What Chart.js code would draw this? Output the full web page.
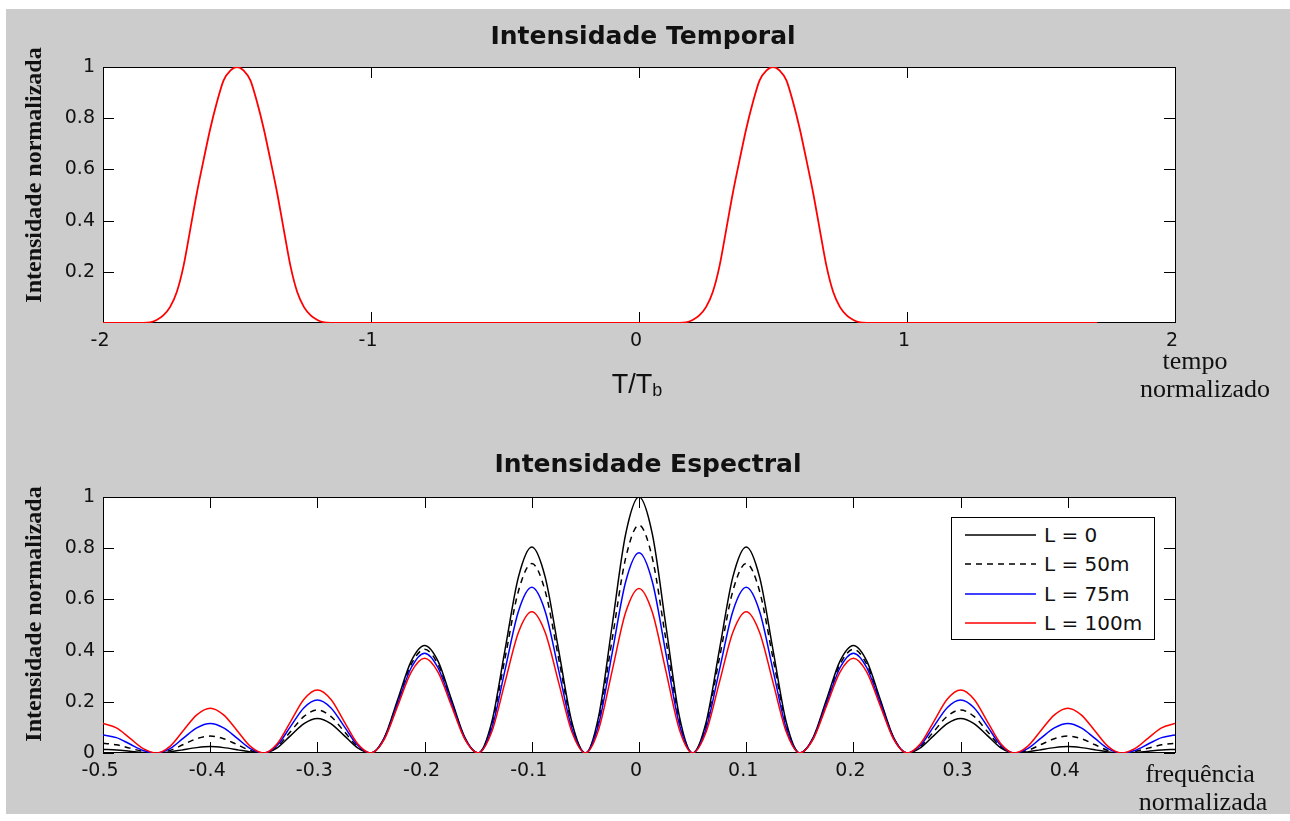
<!DOCTYPE html>
<html lang="pt">
<head>
<meta charset="utf-8">
<title>Intensidade Temporal e Espectral</title>
<script src="https://cdn.jsdelivr.net/npm/chart.js@4.4.0/dist/chart.umd.min.js"></script>
<style>
  html, body { margin: 0; padding: 0; background: #fff; }
  body { width: 1290px; height: 821px; position: relative; overflow: hidden; color: #111; }
  #fundo { position: absolute; left: 6px; top: 9px; width: 1284px; height: 805px; background: #cccccc; }
  canvas { position: absolute; left: 0; }
  #grafTempo { top: 0; }
  #grafEspectro { top: 420px; }
  .titulo { position: absolute; font: bold 25px 'DejaVu Sans', sans-serif; line-height: 25px; white-space: nowrap; transform: translateX(-50%); }
  .rotulo-y { position: absolute; font: bold 24px 'Liberation Serif', serif; line-height: 24px; white-space: nowrap; transform: translate(-50%, -50%) rotate(-90deg); }
  .linha-x { position: absolute; font: 26px 'Liberation Serif', serif; line-height: 28px; white-space: nowrap; transform: translateX(-50%); }
  #tTb { position: absolute; left: 637px; top: 371px; font: 27px 'Liberation Sans', sans-serif; line-height: 27px; transform: translateX(-50%); white-space: nowrap; }
  #tTb sub { font-size: 18px; vertical-align: -3px; }
  #legenda { position: absolute; left: 951px; top: 517px; width: 202px; height: 121px; border: 1px solid #000; background: #fff; }
  #legenda .item { position: absolute; left: 0; height: 24px; display: flex; align-items: center; font: 20px 'DejaVu Sans', sans-serif; white-space: nowrap; }
  #legenda svg { margin-left: 13px; margin-right: 8px; }
</style>
</head>
<body>
<div id="fundo"></div>
<canvas id="grafTempo" width="1290" height="420"></canvas>
<canvas id="grafEspectro" width="1290" height="401"></canvas>

<div class="titulo" style="left:643px; top:23px;">Intensidade Temporal</div>
<div class="titulo" style="left:648px; top:451px;">Intensidade Espectral</div>
<div class="rotulo-y" style="left:33px; top:175px;">Intensidade normalizada</div>
<div class="rotulo-y" style="left:33px; top:614px;">Intensidade normalizada</div>
<div id="tTb">T/T<sub>b</sub></div>
<div class="linha-x" style="left:1195px; top:347px;">tempo</div>
<div class="linha-x" style="left:1205px; top:375px;">normalizado</div>
<div class="linha-x" style="left:1200px; top:760px;">frequência</div>
<div class="linha-x" style="left:1203px; top:788px;">normalizada</div>
<div id="legenda"></div>

<script>
// pulsos no tempo (T/Tb) e intensidade normalizada
const tempo = [
  -2,
  -1.85, -1.825, -1.8, -1.775, -1.75, -1.725, -1.7, -1.675, -1.65, -1.625,
  -1.6, -1.575, -1.55, -1.525, -1.5, -1.475, -1.45, -1.425, -1.4, -1.375,
  -1.35, -1.325, -1.3, -1.275, -1.25, -1.225, -1.2, -1.175, -1.15,
  0.15, 0.175, 0.2, 0.225, 0.25, 0.275, 0.3, 0.325, 0.35, 0.375,
  0.4, 0.425, 0.45, 0.475, 0.5, 0.525, 0.55, 0.575, 0.6, 0.625,
  0.65, 0.675, 0.7, 0.725, 0.75, 0.775, 0.8, 0.825, 0.85,
  1.71
];
const intensidadeTemporal = [
  0,
  0, 0.002, 0.012, 0.03, 0.062, 0.12, 0.22, 0.362, 0.507, 0.635,
  0.758, 0.862, 0.948, 0.986, 1, 0.986, 0.948, 0.862, 0.758, 0.635,
  0.507, 0.362, 0.22, 0.12, 0.062, 0.03, 0.012, 0.002, 0,
  0, 0.002, 0.012, 0.03, 0.062, 0.12, 0.22, 0.362, 0.507, 0.635,
  0.758, 0.862, 0.948, 0.986, 1, 0.986, 0.948, 0.862, 0.758, 0.635,
  0.507, 0.362, 0.22, 0.12, 0.062, 0.03, 0.012, 0.002, 0,
  0
];
const ticksTempoX = [-2, -1, 0, 1, 2];
const ticksTempoY = [0.2, 0.4, 0.6, 0.8, 1];

// espectro para cada comprimento de fibra
const frequencia = [
  -0.5, -0.4875, -0.475, -0.4625, -0.45, -0.4375, -0.425, -0.4125,
  -0.4, -0.3875, -0.375, -0.3625, -0.35, -0.3375, -0.325, -0.3125,
  -0.3, -0.2875, -0.275, -0.2625, -0.25, -0.2375, -0.225, -0.2125,
  -0.2, -0.1875, -0.175, -0.1625, -0.15, -0.1375, -0.125, -0.1125,
  -0.1, -0.0875, -0.075, -0.0625, -0.05, -0.0375, -0.025, -0.0125,
  0,
  0.0125, 0.025, 0.0375, 0.05, 0.0625, 0.075, 0.0875, 0.1,
  0.1125, 0.125, 0.1375, 0.15, 0.1625, 0.175, 0.1875, 0.2,
  0.2125, 0.225, 0.2375, 0.25, 0.2625, 0.275, 0.2875, 0.3,
  0.3125, 0.325, 0.3375, 0.35, 0.3625, 0.375, 0.3875, 0.4,
  0.4125, 0.425, 0.4375, 0.45, 0.4625, 0.475, 0.4875, 0.5
];
const espectroL0 = [
  0.014, 0.012, 0.007, 0.002, 0, 0.004, 0.013, 0.021,
  0.025, 0.021, 0.013, 0.004, 0, 0.020, 0.068, 0.115,
  0.135, 0.115, 0.068, 0.020, 0, 0.061, 0.210, 0.359,
  0.420, 0.359, 0.210, 0.061, 0, 0.118, 0.403, 0.687,
  0.805, 0.687, 0.403, 0.118, 0, 0.146, 0.500, 0.854,
  1.000,
  0.854, 0.500, 0.146, 0, 0.118, 0.403, 0.687, 0.805,
  0.687, 0.403, 0.118, 0, 0.061, 0.210, 0.359, 0.420,
  0.359, 0.210, 0.061, 0, 0.020, 0.068, 0.115, 0.135,
  0.115, 0.068, 0.020, 0, 0.004, 0.013, 0.021, 0.025,
  0.021, 0.013, 0.004, 0, 0.002, 0.007, 0.012, 0.014
];
const espectroL50 = [
  0.038, 0.032, 0.019, 0.006, 0, 0.010, 0.033, 0.056,
  0.066, 0.056, 0.033, 0.010, 0, 0.025, 0.084, 0.143,
  0.168, 0.143, 0.084, 0.025, 0, 0.059, 0.203, 0.346,
  0.405, 0.346, 0.203, 0.059, 0, 0.108, 0.370, 0.632,
  0.740, 0.632, 0.370, 0.108, 0, 0.130, 0.445, 0.760,
  0.890,
  0.760, 0.445, 0.130, 0, 0.108, 0.370, 0.632, 0.740,
  0.632, 0.370, 0.108, 0, 0.059, 0.203, 0.346, 0.405,
  0.346, 0.203, 0.059, 0, 0.025, 0.084, 0.143, 0.168,
  0.143, 0.084, 0.025, 0, 0.010, 0.033, 0.056, 0.066,
  0.056, 0.033, 0.010, 0, 0.006, 0.019, 0.032, 0.038
];
const espectroL75 = [
  0.070, 0.060, 0.035, 0.010, 0, 0.017, 0.058, 0.098,
  0.115, 0.098, 0.058, 0.017, 0, 0.030, 0.104, 0.177,
  0.207, 0.177, 0.104, 0.030, 0, 0.057, 0.195, 0.333,
  0.390, 0.333, 0.195, 0.057, 0, 0.094, 0.324, 0.553,
  0.647, 0.553, 0.324, 0.094, 0, 0.114, 0.391, 0.668,
  0.782,
  0.668, 0.391, 0.114, 0, 0.094, 0.324, 0.553, 0.647,
  0.553, 0.324, 0.094, 0, 0.057, 0.195, 0.333, 0.390,
  0.333, 0.195, 0.057, 0, 0.030, 0.104, 0.177, 0.207,
  0.177, 0.104, 0.030, 0, 0.017, 0.058, 0.098, 0.115,
  0.098, 0.058, 0.017, 0, 0.010, 0.035, 0.060, 0.070
];
const espectroL100 = [
  0.115, 0.098, 0.058, 0.017, 0, 0.026, 0.088, 0.149,
  0.175, 0.149, 0.088, 0.026, 0, 0.036, 0.123, 0.210,
  0.246, 0.210, 0.123, 0.036, 0, 0.054, 0.185, 0.316,
  0.370, 0.316, 0.185, 0.054, 0, 0.081, 0.276, 0.471,
  0.552, 0.471, 0.276, 0.081, 0, 0.094, 0.322, 0.549,
  0.643,
  0.549, 0.322, 0.094, 0, 0.081, 0.276, 0.471, 0.552,
  0.471, 0.276, 0.081, 0, 0.054, 0.185, 0.316, 0.370,
  0.316, 0.185, 0.054, 0, 0.036, 0.123, 0.210, 0.246,
  0.210, 0.123, 0.036, 0, 0.026, 0.088, 0.149, 0.175,
  0.149, 0.088, 0.026, 0, 0.017, 0.058, 0.098, 0.115
];
const rotulosL = ['L = 0', 'L = 50m', 'L = 75m', 'L = 100m'];
// 0.5 fica sem rótulo: o texto "frequência normalizada" ocupa esse canto
const ticksFreqX = [-0.5, -0.4, -0.3, -0.2, -0.1, 0, 0.1, 0.2, 0.3, 0.4];
const ticksFreqY = [0, 0.2, 0.4, 0.6, 0.8, 1];

Chart.defaults.font.family = "'DejaVu Sans', sans-serif";
Chart.defaults.font.size = 19;
Chart.defaults.color = '#111';

// fundo branco, moldura e marcas de escala para dentro (estilo MATLAB)
const moldura = {
  id: 'moldura',
  beforeDraw(chart) {
    const { ctx, chartArea: a } = chart;
    ctx.save();
    ctx.fillStyle = '#fff';
    ctx.fillRect(a.left, a.top, a.width, a.height);
    ctx.restore();
  },
  beforeDatasetsDraw(chart) {
    const { ctx, chartArea: a, scales: { x, y } } = chart;
    const len = 11;
    ctx.save();
    ctx.strokeStyle = '#000';
    ctx.lineWidth = 1;
    ctx.beginPath();
    x.ticks.forEach((t) => {
      const px = Math.round(x.getPixelForValue(t.value)) + 0.5;
      ctx.moveTo(px, a.bottom);
      ctx.lineTo(px, a.bottom - len);
      ctx.moveTo(px, a.top);
      ctx.lineTo(px, a.top + len);
    });
    y.ticks.forEach((t) => {
      const py = Math.round(y.getPixelForValue(t.value)) + 0.5;
      ctx.moveTo(a.left, py);
      ctx.lineTo(a.left + len, py);
      ctx.moveTo(a.right, py);
      ctx.lineTo(a.right - len, py);
    });
    ctx.stroke();
    ctx.strokeRect(Math.round(a.left) + 0.5, Math.round(a.top) + 0.5,
      Math.round(a.width), Math.round(a.height) - 1);
    ctx.restore();
  }
};

function eixos(xMin, xMax, xTicks, yTicks, yWidth, xHeight) {
  return {
    x: {
      type: 'linear',
      min: xMin,
      max: xMax,
      grid: { display: false, drawTicks: false },
      border: { display: false },
      afterBuildTicks: (s) => { s.ticks = xTicks.map((v) => ({ value: v })); },
      afterFit: (s) => { s.height = xHeight; },
      ticks: { padding: 7, labelOffset: -3, maxRotation: 0, autoSkip: false, callback: (v) => String(v) }
    },
    y: {
      type: 'linear',
      min: 0,
      max: 1,
      grid: { display: false, drawTicks: false },
      border: { display: false },
      afterBuildTicks: (s) => { s.ticks = yTicks.map((v) => ({ value: v })); },
      afterFit: (s) => { s.width = yWidth; },
      ticks: { padding: 8, autoSkip: false, callback: (v) => String(v) }
    }
  };
}

function opcoes(padTop, yWidth, xHeight, xMin, xMax, xTicks, yTicks, largura) {
  return {
    responsive: false,
    animation: false,
    devicePixelRatio: 1,
    layout: { padding: { left: 0, top: padTop, right: 115, bottom: 0 } },
    plugins: { legend: { display: false }, tooltip: { enabled: false } },
    elements: {
      point: { radius: 0 },
      line: { borderWidth: largura, cubicInterpolationMode: 'monotone' }
    },
    scales: eixos(xMin, xMax, xTicks, yTicks, yWidth, xHeight)
  };
}

new Chart(document.getElementById('grafTempo'), {
  type: 'line',
  data: {
    labels: tempo,
    datasets: [{ data: intensidadeTemporal, borderColor: '#ff0000', fill: false }]
  },
  options: opcoes(67, 103, 97, -2, 2, ticksTempoX, ticksTempoY, 1.8),
  plugins: [moldura]
});

const curvas = [
  { label: rotulosL[0], data: espectroL0, borderColor: '#000000', borderDash: [], order: 3 },
  { label: rotulosL[1], data: espectroL50, borderColor: '#000000', borderDash: [6, 5], order: 2 },
  { label: rotulosL[2], data: espectroL75, borderColor: '#0000ff', borderDash: [], order: 1 },
  { label: rotulosL[3], data: espectroL100, borderColor: '#ff0000', borderDash: [], order: 0 }
];

new Chart(document.getElementById('grafEspectro'), {
  type: 'line',
  data: {
    labels: frequencia,
    datasets: curvas.map((c) => ({ ...c, fill: false }))
  },
  options: opcoes(77, 103, 68, -0.5, 0.5, ticksFreqX, ticksFreqY, 1.5),
  plugins: [moldura]
});

// legenda dentro do gráfico espectral
const legenda = document.getElementById('legenda');
curvas.forEach((c, i) => {
  const item = document.createElement('div');
  item.className = 'item';
  item.style.top = (5 + i * 29.3) + 'px';
  const dash = c.borderDash.length ? ` stroke-dasharray="${c.borderDash.join(' ')}"` : '';
  item.innerHTML = `<svg width="71" height="4"><line x1="0" y1="2" x2="71" y2="2" stroke="${c.borderColor}" stroke-width="1.5"${dash}/></svg><span>${c.label}</span>`;
  legenda.appendChild(item);
});
</script>
</body>
</html>
